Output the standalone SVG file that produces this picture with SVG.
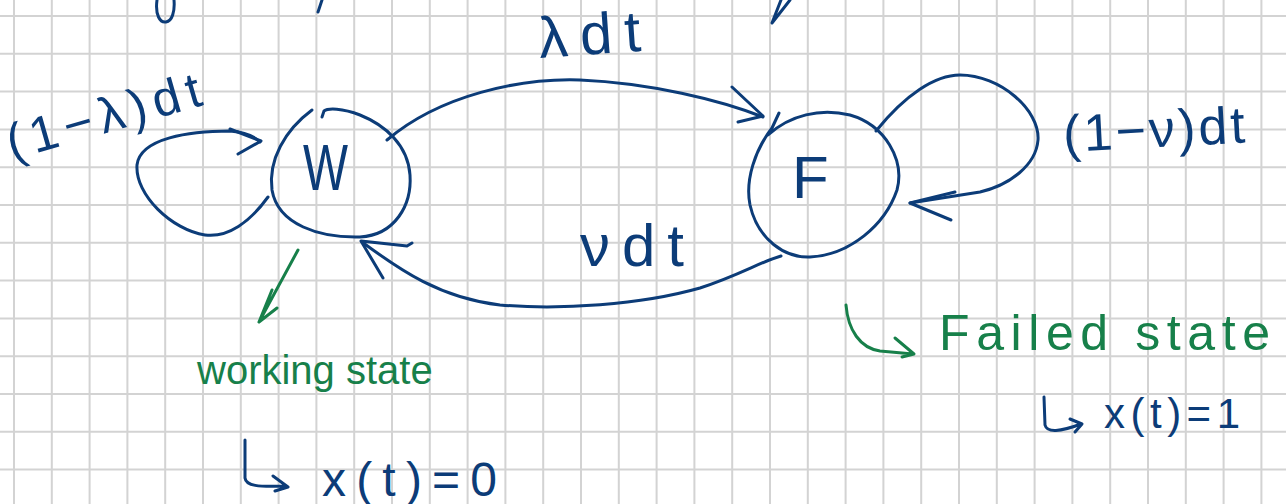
<svg xmlns="http://www.w3.org/2000/svg" width="1286" height="504" viewBox="0 0 1286 504">
<style>
.grid{stroke:#d3d3d3;stroke-width:2;fill:none}
.ink{stroke:#0c3c78;stroke-width:3;fill:none;stroke-linecap:round;stroke-linejoin:round}
.gink{stroke:#17804a;stroke-width:3;fill:none;stroke-linecap:round;stroke-linejoin:round}
.t{font-family:"Liberation Sans",Arial,sans-serif;fill:#0c3c78}
.g{font-family:"Liberation Sans",Arial,sans-serif;fill:#17804a}
</style>
<rect width="1286" height="504" fill="#ffffff"/>
<g id="grid">
<path class="grid" d="M14 0V504M51.8 0V504M89.6 0V504M127.4 0V504M165.2 0V504M203 0V504M240.8 0V504M278.6 0V504M316.4 0V504M354.2 0V504M392 0V504M429.8 0V504M467.6 0V504M505.4 0V504M543.2 0V504M581 0V504M618.8 0V504M656.6 0V504M694.4 0V504M732.2 0V504M770 0V504M807.8 0V504M845.6 0V504M883.4 0V504M921.2 0V504M959 0V504M996.8 0V504M1034.6 0V504M1072.4 0V504M1110.2 0V504M1148 0V504M1185.8 0V504M1223.6 0V504M1261.4 0V504"/>
<path class="grid" d="M0 16H1286M0 53.8H1286M0 91.6H1286M0 129.4H1286M0 167.2H1286M0 205H1286M0 242.8H1286M0 280.6H1286M0 318.4H1286M0 356.2H1286M0 394H1286M0 431.8H1286M0 469.6H1286"/>
</g>
<g id="top-fragments">
<path class="ink" d="M157 0C155 15 160 23 166 22C172 21 175 12 174 0"/>
<path class="ink" d="M322 0L318 12"/>
<path class="ink" d="M790 0L772 23L781 0"/>
</g>
<g id="node-W">
<path class="ink" d="M312 110C285 130 268 160 272 190C278 225 320 238 360 237C395 235 412 205 410 175C408 145 385 125 360 115C342 108 328 108 324 111L322 117"/>
<text class="t" x="303" y="190" font-size="64" textLength="45" lengthAdjust="spacingAndGlyphs">W</text>
</g>
<g id="node-F">
<path class="ink" d="M779 113L772 128C755 150 745 180 750 205C758 240 785 258 810 257C850 255 885 225 897 190C905 160 885 125 850 115C820 108 790 115 768 135"/>
<text class="t" x="792" y="198" font-size="60">F</text>
</g>
<g id="connectors">
<g id="loop-W">
<path class="ink" d="M268 197C250 222 228 238 205 235C172 230 135 195 137 165C140 138 190 131 230 131C245 132 255 137 260 142"/>
<path class="ink" d="M230 129L261 141L238 154"/>
<text class="t" x="12" y="160" font-size="50" textLength="200" lengthAdjust="spacing" transform="rotate(-16 12 160)">(1−λ)dt</text>
</g>
<g id="edge-W-F">
<path class="ink" d="M387 140C440 95 520 78 580 80C650 83 720 100 763 117"/>
<path class="ink" d="M732 87L763 116L738 122"/>
<text class="t" x="540" y="58" font-size="58" textLength="102" lengthAdjust="spacing" transform="rotate(-4 540 58)">λdt</text>
</g>
<g id="loop-F">
<path class="ink" d="M876 131C905 95 935 75 960 75C1000 75 1040 110 1038 140C1036 165 1010 185 980 192L910 203"/>
<path class="ink" d="M955 192L910 203L951 220"/>
<text class="t" x="1064" y="152" font-size="52" textLength="182" lengthAdjust="spacing" transform="rotate(-3 1064 152)">(1−ν)dt</text>
</g>
<g id="edge-F-W">
<path class="ink" d="M781 256C760 262 740 275 700 288C640 305 560 310 500 305C440 298 400 270 362 242"/>
<path class="ink" d="M383 278L361 241L407 246L412 243"/>
<text class="t" x="580" y="266" font-size="60" textLength="104" lengthAdjust="spacing">νdt</text>
</g>
</g>
<g id="note-working">
<path class="gink" d="M298 250L259 322M272 290L259 322L277 308"/>
<text class="g" x="197" y="384" font-size="40">working state</text>
</g>
<g id="note-x0">
<path class="ink" d="M245 440L245 478C246 486 258 487 285 486M273 476L288 487L275 491"/>
<text class="t" x="322" y="496" font-size="48" textLength="175" lengthAdjust="spacing">x(t)=0</text>
</g>
<g id="note-failed">
<path class="gink" d="M846 305C848 330 860 348 880 351L913 354M895 338L914 354L902 357"/>
<text class="g" x="939" y="350" font-size="50" textLength="331" lengthAdjust="spacing">Failed state</text>
</g>
<g id="note-x1">
<path class="ink" d="M1044 397L1045 425C1047 433 1060 432 1081 424M1070 419L1082 424L1075 432"/>
<text class="t" x="1104" y="428" font-size="42" textLength="136" lengthAdjust="spacing">x(t)=1</text>
</g>
</svg>
